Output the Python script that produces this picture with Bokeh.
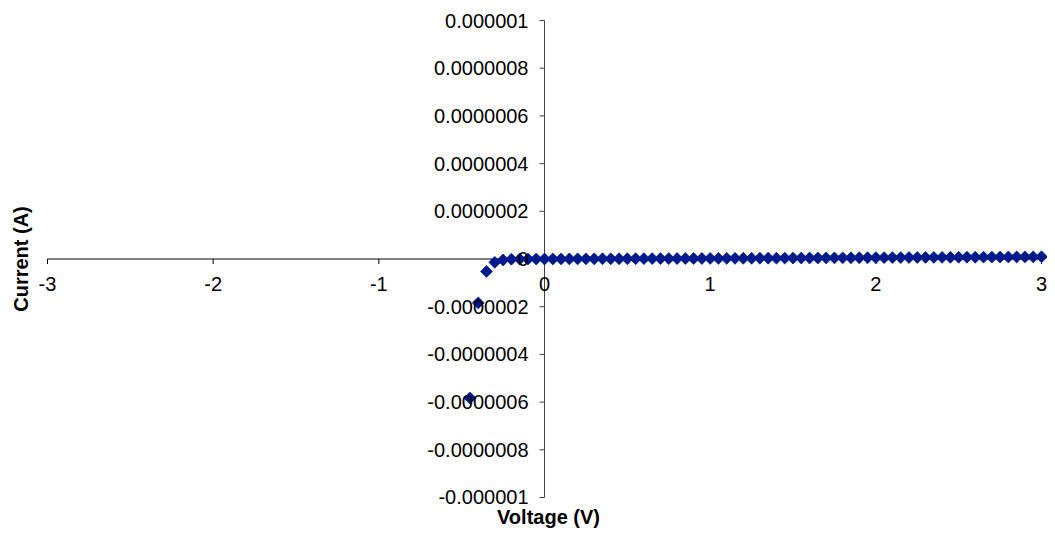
import numpy as np
from bokeh.plotting import figure
from bokeh.models import Range1d, LabelSet, ColumnDataSource
from bokeh.core.properties import value
from bokeh.embed import file_html
from bokeh.resources import INLINE

# ---- data ----
voltage = [-0.45, -0.40, -0.35, -0.30, -0.25, -0.20, -0.15, -0.10, -0.05, 0.00,
           0.05, 0.10, 0.15, 0.20, 0.25, 0.30, 0.35, 0.40, 0.45, 0.50,
           0.55, 0.60, 0.65, 0.70, 0.75, 0.80, 0.85, 0.90, 0.95, 1.00,
           1.05, 1.10, 1.15, 1.20, 1.25, 1.30, 1.35, 1.40, 1.45, 1.50,
           1.55, 1.60, 1.65, 1.70, 1.75, 1.80, 1.85, 1.90, 1.95, 2.00,
           2.05, 2.10, 2.15, 2.20, 2.25, 2.30, 2.35, 2.40, 2.45, 2.50,
           2.55, 2.60, 2.65, 2.70, 2.75, 2.80, 2.85, 2.90, 2.95, 3.00]
current = [-5.83e-7, -1.84e-7, -5.2e-8, -1.4e-8, -4.0e-9, -1.0e-9, -3e-10, -1e-10, 0.0, 0.0,
           1e-10, 3e-10, 4e-10, 5e-10, 6e-10, 7e-10, 9e-10, 1.0e-9, 1.1e-9, 1.2e-9,
           1.3e-9, 1.5e-9, 1.6e-9, 1.7e-9, 1.8e-9, 1.9e-9, 2.1e-9, 2.2e-9, 2.3e-9, 2.4e-9,
           2.5e-9, 2.7e-9, 2.8e-9, 3.0e-9, 3.1e-9, 3.3e-9, 3.4e-9, 3.6e-9, 3.7e-9, 3.9e-9,
           4.0e-9, 4.2e-9, 4.4e-9, 4.5e-9, 4.7e-9, 4.9e-9, 5.0e-9, 5.2e-9, 5.4e-9, 5.5e-9,
           5.7e-9, 5.9e-9, 6.0e-9, 6.2e-9, 6.4e-9, 6.6e-9, 6.7e-9, 6.9e-9, 7.1e-9, 7.3e-9,
           7.5e-9, 7.6e-9, 7.8e-9, 8.0e-9, 8.2e-9, 8.4e-9, 8.6e-9, 8.8e-9, 9.0e-9, 9.2e-9]
x_ticks = [-3, -2, -1, 0, 1, 2, 3]
x_tick_labels = ["-3", "-2", "-1", "0", "1", "2", "3"]
y_ticks = [1e-6, 8e-7, 6e-7, 4e-7, 2e-7, 0.0, -2e-7, -4e-7, -6e-7, -8e-7, -1e-6]
y_tick_labels = ["0.000001", "0.0000008", "0.0000006", "0.0000004", "0.0000002", "0",
                 "-0.0000002", "-0.0000004", "-0.0000006", "-0.0000008", "-0.000001"]
x_title = "Voltage (V)"
y_title = "Current (A)"

FONT = "Liberation Sans"
MARK = "#001A8C"

# the plotting frame covers the whole canvas so that nothing is clipped
p = figure(width=1047, height=528, output_backend="svg", toolbar_location=None,
           title=None,
           x_range=Range1d(-3.2837, 3.0362), y_range=Range1d(-1.12998e-6, 1.08386e-6),
           x_axis_type=None, y_axis_type=None,
           min_border_left=0, min_border_right=0, min_border_top=0, min_border_bottom=0)
p.outline_line_color = None
p.background_fill_color = "white"
p.border_fill_color = "white"

# axis lines crossing at origin
p.segment(x0=[x_ticks[0]], y0=[0], x1=[x_ticks[-1]], y1=[0], line_color="black", line_width=1)
p.segment(x0=[0], y0=[y_ticks[-1]], x1=[0], y1=[y_ticks[0]], line_color="#404040", line_width=1)

# tick marks
p.ray(x=x_ticks, y=[0] * len(x_ticks), length=5, length_units="screen",
      angle=-np.pi / 2, line_color="black", line_width=1)
p.ray(x=[0] * len(y_ticks), y=y_ticks, length=5, length_units="screen",
      angle=np.pi, line_color="#404040", line_width=1)

# data markers (Excel-style diamonds)
p.scatter(voltage, current, marker="square", angle=np.pi / 4, size=8.4,
          fill_color=MARK, line_color=MARK, line_width=0.8)

# tick labels
ysrc = ColumnDataSource(dict(x=[0] * len(y_ticks), y=y_ticks, t=y_tick_labels))
p.add_layout(LabelSet(source=ysrc, x="x", y="y", text="t", x_offset=-16,
                      text_align="right", text_baseline="middle",
                      text_font=value(FONT), text_font_size=value("20px"),
                      text_color="black"))
xsrc = ColumnDataSource(dict(x=x_ticks, y=[0] * len(x_ticks), t=x_tick_labels))
p.add_layout(LabelSet(source=xsrc, x="x", y="y", text="t", y_offset=-32,
                      text_align="center", text_baseline="alphabetic",
                      text_font=value(FONT), text_font_size=value("20px"),
                      text_color="black"))

# axis titles
xt_src = ColumnDataSource(dict(x=[0], y=[y_ticks[-1]], t=[x_title]))
p.add_layout(LabelSet(source=xt_src, x="x", y="y", text="t", x_offset=4, y_offset=-27,
                      text_align="center", text_baseline="alphabetic",
                      text_font=value(FONT), text_font_style=value("bold"),
                      text_font_size=value("20px"), text_color="black"))
yt_src = ColumnDataSource(dict(x=[x_ticks[0]], y=[0], t=[y_title]))
p.add_layout(LabelSet(source=yt_src, x="x", y="y", text="t", x_offset=-19.4,
                      angle=np.pi / 2, text_align="center", text_baseline="alphabetic",
                      text_font=value(FONT), text_font_style=value("bold"),
                      text_font_size=value("20px"), text_color="black"))

open("out.html", "w").write(file_html(p, INLINE))
